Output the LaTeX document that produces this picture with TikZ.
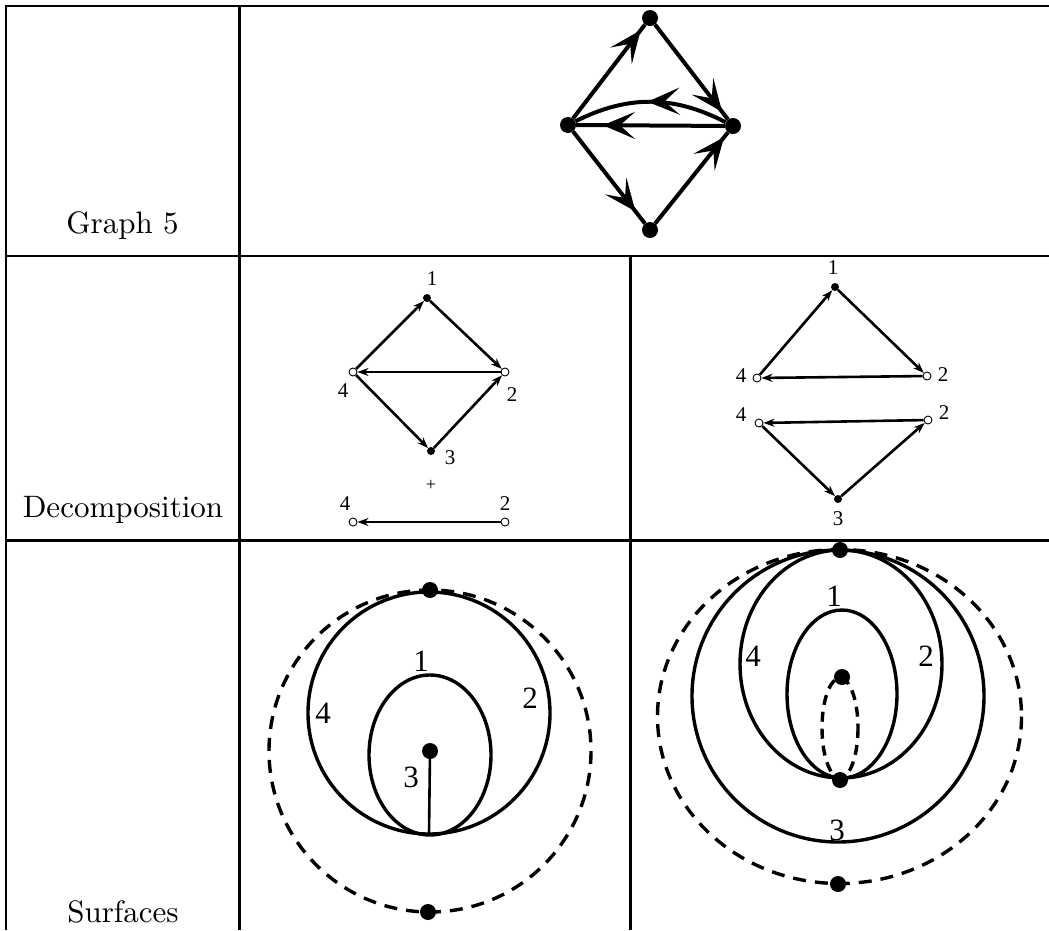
\documentclass[tikz,border=0pt]{standalone}
\usepackage{fontspec}
\newfontfamily\timesfont{Liberation Serif}
\newfontfamily\lmten{lmroman10-regular.otf}
\usetikzlibrary{arrows.meta,decorations.markings}
\begin{document}
\begin{tikzpicture}[x=1pt,y=-1pt,
  tbl/.style={line width=2.5pt},
  lbl/.style={font=\lmten\fontsize{31}{36}\selectfont, anchor=base, inner sep=0pt},
  bigdot/.style={circle, fill, inner sep=0pt, minimum size=16pt},
  gedge/.style={line width=4pt},
  garrow/.style={postaction=decorate, decoration={markings, mark=at position #1 with {\arrow{Stealth[length=32pt,width=27pt,inset=15pt]}}}},
  sdot/.style={circle, fill, inner sep=0pt, minimum size=8pt},
  odot/.style={circle, draw, fill=white, inner sep=0pt, minimum size=8pt, line width=0.9pt},
  dedge/.style={line width=2.6pt, -{Stealth[length=11pt,width=8pt,inset=3.5pt]}},
  dlbl/.style={font=\timesfont\fontsize{21}{24}\selectfont, inner sep=0pt},
  plbl/.style={font=\timesfont\fontsize{18}{20}\selectfont, inner sep=0pt},
  slbl/.style={font=\timesfont\fontsize{31}{34}\selectfont, inner sep=0pt},
  surf/.style={line width=3.4pt},
  dsurf/.style={line width=3.4pt, dash pattern=on 13pt off 9pt}]
\useasboundingbox (0,0) rectangle (1049,930);
\fill[white] (0,0) rectangle (1049,930);
% table
\draw[tbl] (5,6) -- (1049,6);
\draw[tbl] (6,5) -- (6,930);
\draw[line width=3.5pt] (239.5,5) -- (239.5,930);
\draw[tbl] (5,256) -- (1049,256);
\draw[tbl] (5,540.5) -- (1049,540.5);
\draw[line width=3pt] (630,256) -- (630,930);
\node[lbl] (tg) at (122.5,233) {Graph 5};
\node[lbl] (td) at (123,517) {Decomposition};
\node[lbl] (ts) at (123,922) {Surfaces};
% graph 5
\node[bigdot] (gT) at (650,18) {};
\node[bigdot] (gL) at (568,125) {};
\node[bigdot] (gR) at (733,126) {};
\node[bigdot] (gB) at (650,230) {};
\draw[gedge, garrow=0.94] (gL) -- (gT);
\draw[gedge, garrow=0.92] (gT) -- (gR);
\draw[gedge, garrow=0.87] (gL) -- (gB);
\draw[gedge, garrow=0.95] (gB) -- (gR);
\draw[gedge, garrow=0.82] (gR) -- (gL);
\draw[gedge, garrow=0.52] (gR) to[bend right=27] (gL);
% decomposition left
\node[sdot] (d1) at (427,298) {};
\node[odot] (d4) at (353,372) {};
\node[odot] (d2) at (505,372) {};
\node[sdot] (d3) at (431,451) {};
\node[odot] (e4) at (353,522) {};
\node[odot] (e2) at (505,522) {};
\draw[dedge] (d4) -- (d1);
\draw[dedge] (d1) -- (d2);
\draw[dedge] (d2) -- (d4);
\draw[dedge] (d4) -- (d3);
\draw[dedge] (d3) -- (d2);
\draw[dedge] (e2) -- (e4);
\node[dlbl] (ld1) at (432,279) {1};
\node[dlbl] (ld4) at (343,391) {4};
\node[dlbl] (ld2) at (512,395) {2};
\node[dlbl] (ld3) at (450,458) {3};
\node[plbl] (lp) at (431,485) {+};
\node[dlbl] (le4) at (345,504) {4};
\node[dlbl] (le2) at (505,504) {2};
% decomposition right
\node[sdot] (r1) at (835,287) {};
\node[odot] (r4) at (757,378) {};
\node[odot] (r2) at (927,376) {};
\node[odot] (s4) at (759,423) {};
\node[odot] (s2) at (928,420) {};
\node[sdot] (r3) at (838,499) {};
\draw[dedge] (r4) -- (r1);
\draw[dedge] (r1) -- (r2);
\draw[dedge] (r2) -- (r4);
\draw[dedge] (s2) -- (s4);
\draw[dedge] (s4) -- (r3);
\draw[dedge] (r3) -- (s2);
\node[dlbl] (lr1) at (833,268) {1};
\node[dlbl] (lr4) at (741,376) {4};
\node[dlbl] (lr2) at (943,375) {2};
\node[dlbl] (ls4) at (741,415) {4};
\node[dlbl] (ls2) at (944,413) {2};
\node[dlbl] (lr3) at (838,519) {3};
% surfaces left
\draw[dsurf] (430,751) circle[radius=161];
\draw[surf] (429,713) circle[radius=121];
\draw[surf] (430,755) ellipse[x radius=61,y radius=80];
\node[bigdot] (sa) at (430,590) {};
\node[bigdot] (sb) at (428,912) {};
\node[bigdot] (sc) at (430,751) {};
\coordinate (sbot) at (429,834);
\draw[line width=2.6pt] (sc) -- (sbot);
\node[slbl] (sl1) at (421,661) {1};
\node[slbl] (sl4) at (323,713) {4};
\node[slbl] (sl2) at (530,698) {2};
\node[slbl] (sl3) at (411,777) {3};
% surfaces right
\draw[dsurf] (839.5,716.5) ellipse[x radius=182,y radius=167];
\draw[surf] (838,696) circle[radius=146];
\draw[surf] (841,664) ellipse[x radius=101,y radius=114];
\draw[surf] (842,694) ellipse[x radius=55,y radius=84];
\draw[dsurf, dash pattern=on 10pt off 7pt] (840,728) ellipse[x radius=18,y radius=50];
\node[bigdot] (ta) at (840,550) {};
\node[bigdot] (tb) at (838,884) {};
\node[bigdot] (tc) at (842,677) {};
\node[bigdot] (td2) at (840,780) {};
\node[slbl] (tl1) at (834,596) {1};
\node[slbl] (tl4) at (753,656) {4};
\node[slbl] (tl2) at (926,656) {2};
\node[slbl] (tl3) at (837,830) {3};
\end{tikzpicture}
\end{document}
